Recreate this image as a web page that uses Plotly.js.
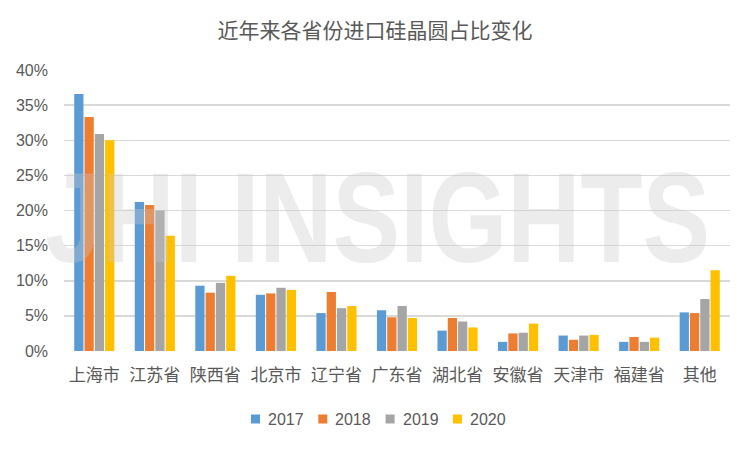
<!DOCTYPE html>
<html><head><meta charset="utf-8">
<script src="https://cdn.plot.ly/plotly-3.0.1.min.js"></script>
<style>html,body{margin:0;padding:0;background:#fff}#c{width:750px;height:450px}</style>
</head><body><div id="c"></div>
<script>
var categories = ["上海市","江苏省","陕西省","北京市","辽宁省","广东省","湖北省","安徽省","天津市","福建省","其他"];
var years = ["2017","2018","2019","2020"];
var v2017 = [36.6,21.2,9.3,8.0,5.4,5.8,2.9,1.3,2.2,1.3,5.5];
var v2018 = [33.3,20.8,8.3,8.2,8.4,4.8,4.7,2.5,1.6,2.0,5.4];
var v2019 = [30.9,20.0,9.7,9.0,6.1,6.4,4.2,2.6,2.2,1.3,7.4];
var v2020 = [30.0,16.4,10.7,8.7,6.4,4.7,3.35,3.9,2.3,1.9,11.5];
var yTicks = [0,5,10,15,20,25,30,35,40];
var yTickText = ["0%","5%","10%","15%","20%","25%","30%","35%","40%"];
var colors = ["#5B9BD5","#ED7D31","#A5A5A5","#FFC000"];
var series = [v2017,v2018,v2019,v2020];
var traces = series.map(function(s,i){
  return {type:"bar", name:years[i], x:categories, y:s,
    marker:{color:colors[i]}, hoverinfo:"x+y", showlegend:false};
});
// plot area geometry (pixels)
var L = 64, R = 20, T = 70, B = 99, W = 750, H = 450;
var pw = W - L - R, ph = H - T - B;
function px2x(p){ return (p - L) / pw; }
function py2y(p){ return (H - B - p) / ph; }
// manual legend, laid out as in the reference
var shapes = [], annotations = [];
var legLeft = 251, legStep = 67.3, legY = 419, sq = 9;
years.forEach(function(y, i){
  var x0 = legLeft + i * legStep;
  shapes.push({type:"rect", xref:"paper", yref:"paper", x0:px2x(x0), x1:px2x(x0 + sq),
    y0:py2y(legY + sq/2), y1:py2y(legY - sq/2), fillcolor:colors[i], line:{width:0}});
  annotations.push({text:y, xref:"paper", yref:"paper", x:px2x(x0 + sq + 6), y:py2y(legY),
    xanchor:"left", yanchor:"middle", showarrow:false,
    font:{size:16, color:"#595959", family:"Liberation Sans, Arial, sans-serif"}});
});
annotations.push({text:"<b>JHI INSIGHTS</b>", xref:"paper", yref:"paper", x:px2x(377), y:0.474,
  xanchor:"center", yanchor:"middle", showarrow:false,
  font:{size:128, color:"rgba(200,200,200,0.35)", family:"Liberation Sans, Arial, sans-serif"}});
var layout = {
  width:W, height:H,
  paper_bgcolor:"#fff", plot_bgcolor:"rgba(0,0,0,0)",
  margin:{l:L, r:R, t:T, b:B},
  font:{family:"Noto Sans CJK SC, sans-serif", color:"#595959"},
  title:{text:"近年来各省份进口硅晶圆占比变化", x:0.5, xanchor:"center", y:0.932, yanchor:"middle",
    font:{size:21, color:"#595959", family:"Noto Sans CJK SC, sans-serif"}},
  barmode:"group", bargap:0.32, bargroupgap:0.1, showlegend:false,
  xaxis:{showline:false, showgrid:false, zeroline:false, ticks:"", ticklabelstandoff:12,
    tickfont:{size:17, color:"#595959"}, fixedrange:true},
  yaxis:{range:[0,40], tickvals:yTicks, ticktext:yTickText, showgrid:true, gridcolor:"#D9D9D9", gridwidth:1.5,
    zeroline:false, showline:false, ticks:"", ticklabelstandoff:15,
    tickfont:{size:16, color:"#595959", family:"Liberation Sans, Arial, sans-serif"}, fixedrange:true},
  shapes:shapes,
  annotations:annotations
};
Plotly.newPlot("c", traces, layout, {displayModeBar:false, staticPlot:true}).then(function(){
  var texts = document.querySelectorAll(".annotation-text");
  texts.forEach(function(t){
    if (t.textContent === "JHI INSIGHTS") {
      t.setAttribute("textLength", "665");
      t.setAttribute("lengthAdjust", "spacingAndGlyphs");
    }
  });
});
</script></body></html>
